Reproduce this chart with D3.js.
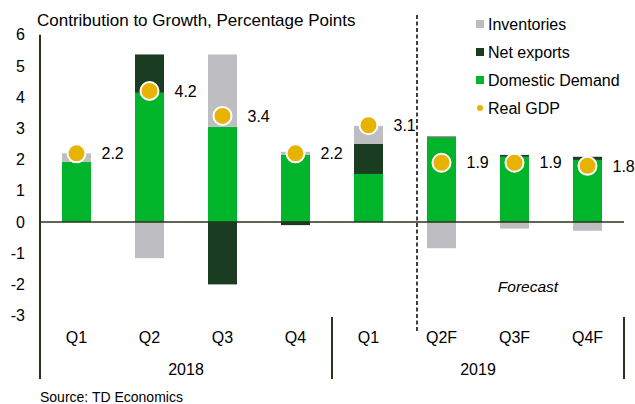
<!DOCTYPE html>
<html>
<head>
<meta charset="utf-8">
<script src="https://cdn.jsdelivr.net/npm/d3@7"></script>
<style>
  body { margin: 0; background: #fff; }
  svg { display: block; font-family: Arial, "Liberation Sans", sans-serif; }
</style>
</head>
<body>
<svg></svg>
<script>
const quarters = ['Q1', 'Q2', 'Q3', 'Q4', 'Q1', 'Q2F', 'Q3F', 'Q4F'];
const years = ['2018', '2019'];
const domestic = [1.93, 4.14, 3.05, 2.15, 1.54, 2.71, 2.09, 1.99];
const netExports = [0, 1.23, -2.0, -0.1, 0.96, 0.03, 0.06, 0.1];
const inventories = [0.27, -1.16, 2.32, 0.1, 0.58, -0.84, -0.21, -0.28];
const gdp = [2.2, 4.2, 3.4, 2.2, 3.1, 1.9, 1.9, 1.8];
const yTicks = [-3, -2, -1, 0, 1, 2, 3, 4, 5, 6];

const width = 635;
const height = 404;
const left = 40;
const right = 624;

const colors = {
  inventories: '#bdbdc2',
  netExports: '#1a3d22',
  domestic: '#00b52a',
  gdp: '#e8b200',
  axis: '#28331c'
};

const svg = d3.select('svg').attr('width', width).attr('height', height);

const rows = quarters.map((q, i) => ({
  i: i,
  domestic: domestic[i],
  netExports: netExports[i],
  inventories: inventories[i]
}));

const xScale = d3.scaleBand().domain(d3.range(quarters.length)).range([left, right]);
const yScale = d3.scaleLinear().domain([-3, 6]).range([315.6, 34.8]);
const barW = 29;
const cx = (i) => xScale(i) + xScale.bandwidth() / 2;

// title
svg.append('text')
  .attr('x', 37).attr('y', 26)
  .attr('font-size', 17)
  .text('Contribution to Growth, Percentage Points');

// y axis labels (plain hyphen for negatives, like the original)
const yAxis = d3.axisLeft(yScale)
  .tickValues(yTicks)
  .tickFormat((d) => String(d))
  .tickSize(0)
  .tickPadding(15);
const yg = svg.append('g').attr('transform', `translate(${left},0)`).call(yAxis);
yg.select('.domain').remove();
yg.selectAll('text').attr('font-size', 16).attr('font-family', null).attr('fill', '#000');

// stacked bars
const keys = ['domestic', 'netExports', 'inventories'];
const stacked = d3.stack().keys(keys).offset(d3.stackOffsetDiverging)(rows);

svg.append('g')
  .selectAll('g')
  .data(stacked)
  .enter()
  .append('g')
  .attr('fill', (s) => colors[s.key])
  .selectAll('rect')
  .data((s) => s)
  .enter()
  .append('rect')
  .attr('x', (d) => cx(d.data.i) - barW / 2)
  .attr('width', barW)
  .attr('y', (d) => yScale(Math.max(d[0], d[1])))
  .attr('height', (d) => Math.abs(yScale(d[0]) - yScale(d[1])));

// zero line
svg.append('line')
  .attr('x1', left).attr('x2', right)
  .attr('y1', yScale(0)).attr('y2', yScale(0))
  .attr('stroke', colors.axis).attr('stroke-width', 1.5);

// left axis and separators
svg.append('line')
  .attr('x1', left).attr('x2', left)
  .attr('y1', yScale(6)).attr('y2', 379)
  .attr('stroke', colors.axis).attr('stroke-width', 2);
[xScale(4), right].forEach((x) => {
  svg.append('line')
    .attr('x1', x).attr('x2', x)
    .attr('y1', 317).attr('y2', 379)
    .attr('stroke', colors.axis).attr('stroke-width', 2);
});

// forecast divider
svg.append('line')
  .attr('x1', 417).attr('x2', 417)
  .attr('y1', 15).attr('y2', 331)
  .attr('stroke', '#111').attr('stroke-width', 1.6)
  .attr('stroke-dasharray', '4,2.5');

svg.append('text')
  .attr('x', 528).attr('y', 292)
  .attr('text-anchor', 'middle')
  .attr('font-size', 15.5)
  .attr('font-style', 'italic')
  .text('Forecast');

// GDP dots and labels
svg.append('g')
  .selectAll('circle')
  .data(gdp)
  .enter()
  .append('circle')
  .attr('cx', (d, i) => cx(i))
  .attr('cy', (d) => yScale(d))
  .attr('r', 9)
  .attr('fill', colors.gdp)
  .attr('stroke', '#fff')
  .attr('stroke-width', 2);

svg.append('g')
  .selectAll('text')
  .data(gdp)
  .enter()
  .append('text')
  .attr('x', (d, i) => cx(i) + 25)
  .attr('y', (d) => yScale(d))
  .attr('dy', '0.36em')
  .attr('font-size', 16)
  .text((d) => d.toFixed(1));

// category labels
svg.append('g')
  .selectAll('text')
  .data(quarters)
  .enter()
  .append('text')
  .attr('x', (d, i) => cx(i))
  .attr('y', 343)
  .attr('text-anchor', 'middle')
  .attr('font-size', 16)
  .text((d) => d);

svg.append('g')
  .selectAll('text')
  .data(years)
  .enter()
  .append('text')
  .attr('x', (d, i) => (xScale(i * 4) + (i === 0 ? xScale(4) : right)) / 2)
  .attr('y', 375)
  .attr('text-anchor', 'middle')
  .attr('font-size', 16)
  .text((d) => d);

// source
svg.append('text')
  .attr('x', 40).attr('y', 402)
  .attr('font-size', 14)
  .text('Source: TD Economics');

// legend
const legendItems = [
  { label: 'Inventories', key: 'inventories', type: 'rect' },
  { label: 'Net exports', key: 'netExports', type: 'rect' },
  { label: 'Domestic Demand', key: 'domestic', type: 'rect' },
  { label: 'Real GDP', key: 'gdp', type: 'dot' }
];
const legend = svg.append('g')
  .selectAll('g')
  .data(legendItems)
  .enter()
  .append('g')
  .attr('transform', (d, i) => `translate(476, ${24 + i * 28})`);
legend.filter((d) => d.type === 'rect')
  .append('rect')
  .attr('x', 0).attr('y', -4)
  .attr('width', 8).attr('height', 8)
  .attr('fill', (d) => colors[d.key]);
legend.filter((d) => d.type === 'dot')
  .append('circle')
  .attr('cx', 4).attr('cy', 0).attr('r', 3)
  .attr('fill', colors.gdp);
legend.append('text')
  .attr('x', 12).attr('y', 0)
  .attr('dy', '0.36em')
  .attr('font-size', 16)
  .text((d) => d.label);
</script>
</body>
</html>
